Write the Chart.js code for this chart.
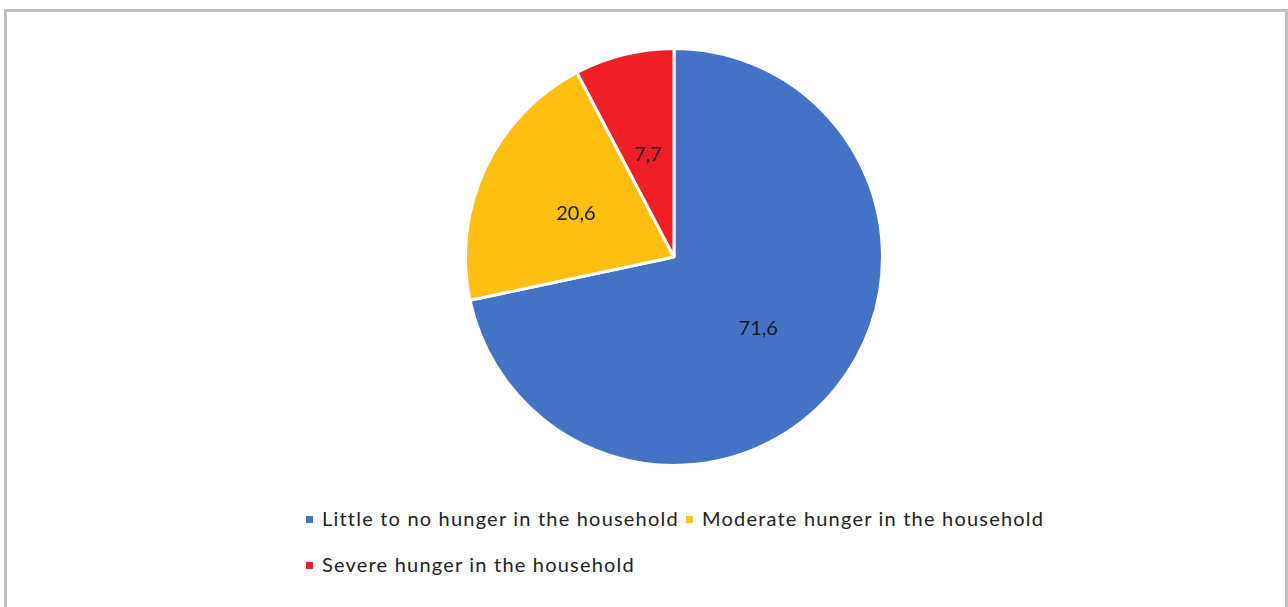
<!DOCTYPE html>
<html>
<head>
<meta charset="utf-8">
<script src="https://cdn.jsdelivr.net/npm/chart.js@4/dist/chart.umd.min.js"></script>
<style>
  body { margin: 0; background: #fff; width: 1288px; height: 607px; overflow: hidden; position: relative; font-family: Lato, "Open Sans", sans-serif; }
  #frame { position: absolute; left: 4px; top: 9px; width: 1278px; height: 700px; border: 3px solid #c1c0c5; border-bottom: none; }
  #wrap { position: absolute; left: 464px; top: 47px; width: 420px; height: 420px; }
  .leg { position: absolute; font-size: 20px; letter-spacing: 1.2px; color: #222; white-space: nowrap; }
  .leg i { position: absolute; width: 7px; height: 7px; left: -16px; top: 10px; }
</style>
</head>
<body>
<div id="frame"></div>
<div id="wrap"><canvas id="chart"></canvas></div>
<div id="legend"></div>
<script>
function $(id) {
  return document.getElementById(id);
}

const labels = [
  "Little to no hunger in the household",
  "Moderate hunger in the household",
  "Severe hunger in the household",
];
const values = [71.6, 20.6, 7.7];
const colors = ["#4472c4", "#fdbf12", "#ee1f26"];

// legend rows: [left, top] of each text
const legendPos = [
  [322, 506],
  [702, 506],
  [322, 552],
];

const sliceLabels = {
  id: "sliceLabels",
  afterDatasetsDraw: (chart) => {
    const { ctx } = chart;
    const meta = chart.getDatasetMeta(0);
    ctx.save();
    ctx.font = "20px Lato, 'Open Sans', sans-serif";
    ctx.fillStyle = "#1a1a1a";
    ctx.textAlign = "center";
    ctx.textBaseline = "middle";
    meta.data.forEach((arc, i) => {
      const p = arc.getProps(["x", "y", "startAngle", "endAngle", "outerRadius"], true);
      const mid = (p.startAngle + p.endAngle) / 2;
      const r = p.outerRadius * 0.52;
      ctx.fillText(
        values[i].toFixed(1).replace(".", ","),
        p.x + Math.cos(mid) * r,
        p.y + Math.sin(mid) * r + 3
      );
    });
    ctx.restore();
  },
};

new Chart($("chart"), {
  type: "pie",
  data: {
    labels: labels,
    datasets: [
      {
        data: values,
        backgroundColor: colors,
        borderColor: "#ffffff",
        borderWidth: 3,
      },
    ],
  },
  options: {
    responsive: true,
    maintainAspectRatio: false,
    animation: false,
    layout: { padding: 0 },
    plugins: {
      legend: { display: false },
      tooltip: { enabled: false },
    },
  },
  plugins: [sliceLabels],
});

$("legend").innerHTML = labels
  .map(
    (l, i) =>
      `<div class="leg" style="left:${legendPos[i][0]}px;top:${legendPos[i][1]}px"><i style="background:${colors[i]}"></i>${l}</div>`
  )
  .join("");
</script>
</body>
</html>
